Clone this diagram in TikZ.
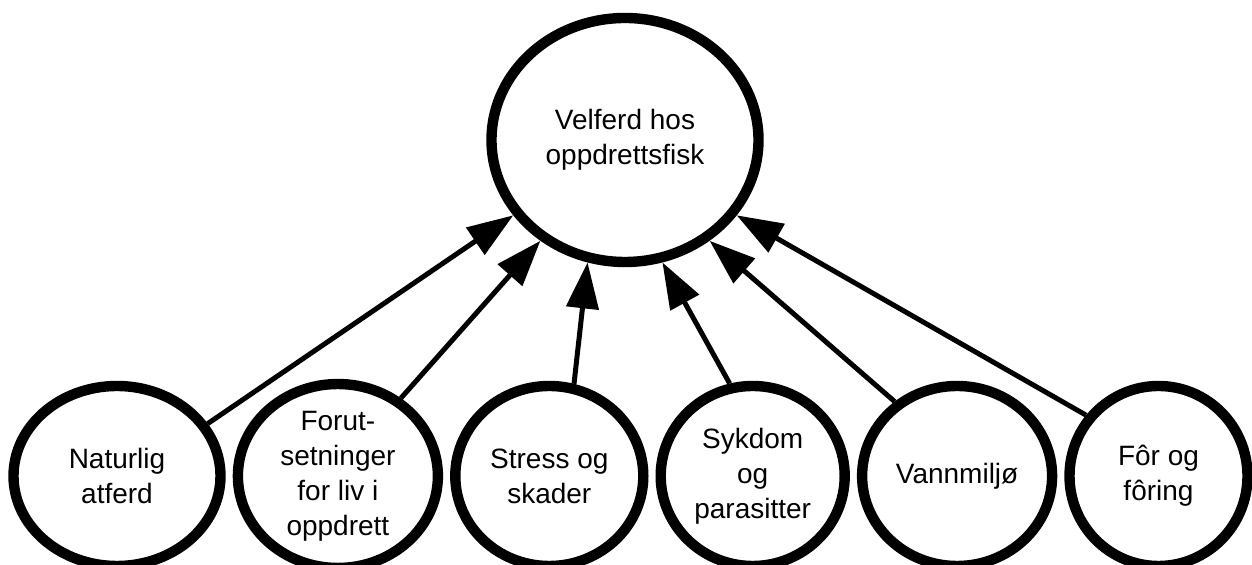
\documentclass[tikz,border=0pt]{standalone}
\usepackage{fontspec}
\setmainfont{Liberation Sans}
\usetikzlibrary{arrows.meta,positioning,shapes.geometric}

\begin{document}
\begin{tikzpicture}[
  x=1pt, y=1pt,
  goal/.style={draw, ellipse, line width=5.2pt, inner sep=0pt, minimum width=133.5pt, minimum height=122pt, align=center, font=\fontsize{14pt}{17.5pt}\selectfont},
  factor/.style={draw, ellipse, line width=5.2pt, inner sep=0pt, minimum width=#1, minimum height=90pt, align=center, font=\fontsize{14pt}{17.5pt}\selectfont},
  arr/.style={-{Triangle[length=23pt, width=16pt]}, line width=2.5pt},
  node distance=3.5pt
]
  \useasboundingbox (0,0) rectangle (626,282.5);

  \node[goal] (velferd) at (312.5,212.5) {Velferd hos\\oppdrettsfisk};

  \node[factor=103.5pt] (atferd) at (58.5,44.5) {Naturlig\\atferd};
  \node[factor=100pt, right=of atferd] (forutsetninger) {Forut-\\setninger\\for liv i\\oppdrett};
  \node[factor=94pt, right=of forutsetninger] (stress) {Stress og\\skader};
  \node[factor=92pt, right=of stress] (sykdom) {Sykdom\\og\\parasitter};
  \node[factor=95pt, right=of sykdom] (vannmiljo) {Vannmiljø};
  \node[factor=89pt, right=of vannmiljo] (foring) {Fôr og\\fôring};

  \draw[arr] (atferd.30) -- (velferd.214);
  \draw[arr] (forutsetninger.51) -- (velferd.230);
  \draw[arr] (stress.75) -- (velferd.253);
  \draw[arr] (sykdom.104) -- (velferd.287);
  \draw[arr] (vannmiljo.130) -- (velferd.310);
  \draw[arr] (foring.140) -- (velferd.326);
\end{tikzpicture}
\end{document}
